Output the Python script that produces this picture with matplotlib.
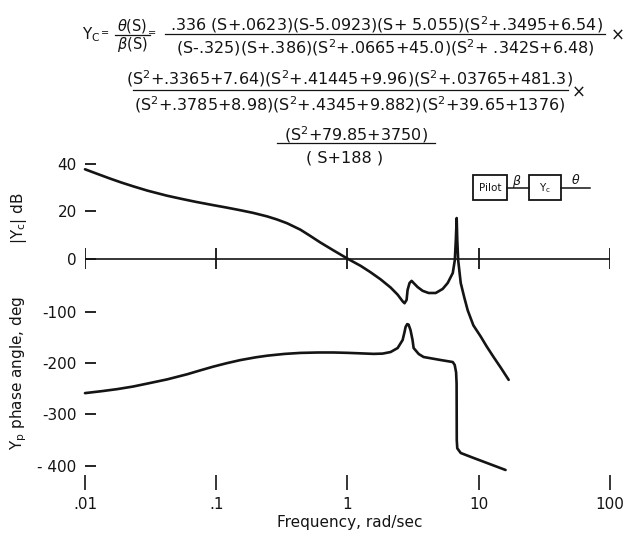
import matplotlib
matplotlib.use("Agg")
import matplotlib.pyplot as plt
from matplotlib.patches import Rectangle
from matplotlib.ticker import NullLocator
import numpy as np

# ---- data ----
# magnitude |Yc| in dB vs frequency (rad/sec)
freq_mag = [0.01, 0.0125, 0.0155, 0.019, 0.0234, 0.030, 0.0421, 0.055, 0.070,
            0.0953, 0.12, 0.152, 0.19, 0.244, 0.29, 0.347, 0.438, 0.52,
            0.622, 0.782, 1.01, 1.26, 1.50, 1.79, 2.13, 2.41, 2.63, 2.72, 2.82,
            2.87, 2.97, 3.08, 3.19, 3.42, 3.74, 4.15, 4.70, 5.31, 5.80, 6.34,
            6.57, 6.69, 6.79, 6.86, 6.97, 7.29, 7.76, 8.24, 9.1, 10.35, 11.5,
            13.0, 14.8, 16.9]
mag_db = [37.7, 35.7, 33.8, 32.1, 30.5, 28.7, 26.6, 25.2, 24.0,
          22.6, 21.6, 20.5, 19.4, 17.9, 16.6, 15.0, 12.3, 9.7,
          6.9, 3.6, 0.0, -2.9, -5.6, -8.6, -12.0, -15.0, -17.8, -18.6, -17.2,
          -13.0, -10.1, -9.2, -10.1, -11.8, -13.4, -14.3, -14.3, -12.6, -10.1, -5.9,
          -0.5, 8.0, 17.2, 8.0, -0.5, -10.1, -16.2, -21.6, -27.9, -32.6, -36.8,
          -41.3, -45.9, -50.8]

# phase angle in deg vs frequency
freq_ph = [0.01, 0.0135, 0.0176, 0.0232, 0.031, 0.0423, 0.0601, 0.075, 0.0948,
           0.12, 0.152, 0.20, 0.245, 0.33, 0.438, 0.60, 0.782, 1.0, 1.26, 1.58,
           1.85, 2.13, 2.41, 2.63, 2.72, 2.77, 2.85, 2.92, 3.02,
           3.13, 3.19, 3.49, 3.80, 5.13, 6.34, 6.56, 6.72, 6.78, 6.80, 6.86,
           7.29, 9.14, 16.0]
phase_deg = [-258.5, -254.6, -250.7, -245.7, -239.0, -231.7, -221.7, -214.4, -206.9,
             -200.2, -194.2, -188.7, -185.5, -182.1, -180.1, -179.3, -179.3, -180, -181, -182,
             -181.5, -178.4, -170.6, -155, -139.4, -129.6, -124, -125, -135.5,
             -155, -170.6, -182.3, -188.1, -194, -197.9, -203.7, -218, -240, -350, -366,
             -375.2, -384.9, -408.3]

freq_ticks = [0.01, 0.1, 1, 10, 100]
freq_labels = ['.01', '.1', '1', '10', '100']
db_ticks = [40, 20, 0]
db_labels = ['40', '20', '0']
deg_ticks = [-100, -200, -300, -400]
deg_labels = ['-100', '-200', '-300', '- 400']

W, H = 626, 537
INK = '#141414'
fig = plt.figure(figsize=(W / 100, H / 100), dpi=100)


def fx(x):
    return x / W


def fy(y):
    return 1 - y / H


# axes span (pixels): x 85..610, y 150..475
ax = fig.add_axes([fx(85), fy(475), fx(610) - fx(85), fy(150) - fy(475)])
ax.set_xscale('log')
ax.set_xlim(0.01, 100)
ax.set_ylim(-418.1, 215.4)
ax.patch.set_visible(False)
for s in ax.spines.values():
    s.set_visible(False)

ax2 = ax.twinx()
ax2.set_ylim(-90.8, 45.8)
for s in ax2.spines.values():
    s.set_visible(False)

# curves
ax2.plot(freq_mag, mag_db, color=INK, lw=1.9, solid_capstyle='round',
         solid_joinstyle='round', clip_on=False)
ax.plot(freq_ph, phase_deg, color=INK, lw=1.9, solid_capstyle='round',
        solid_joinstyle='round', clip_on=False)

# 0 dB reference line with decade ticks
ax2.axhline(0, color=INK, lw=1.2)
ax2.vlines(freq_ticks, -4.2, 4.6, color=INK, lw=1.3)

# x axis
ax.set_xticks(freq_ticks)
ax.set_xticklabels(freq_labels)
ax.xaxis.set_minor_locator(NullLocator())
ax.tick_params(axis='x', direction='out', length=10.5, width=1.2, pad=5,
               labelsize=11, colors=INK)

# y ticks (phase)
ax.set_yticks(deg_ticks)
ax.set_yticklabels(deg_labels)
ax.tick_params(axis='y', direction='in', length=8, width=1.3, pad=6,
               labelsize=11, colors=INK, left=True, labelleft=True)

# y ticks (magnitude), also on the left
ax2.yaxis.tick_left()
ax2.set_yticks(db_ticks)
ax2.set_yticklabels(db_labels)
ax2.tick_params(axis='y', direction='in', length=8, width=1.3, pad=6,
                labelsize=11, colors=INK)

fig.text(fx(19), fy(218), '|Y$_\\mathrm{c}$| dB', rotation=90, ha='center',
         va='center', fontsize=11, color=INK)
fig.text(fx(19), fy(373), 'Y$_\\mathrm{p}$ phase angle, deg', rotation=90,
         ha='center', va='center', fontsize=11, color=INK)
fig.text(fx(350), fy(522), 'Frequency, rad/sec', ha='center', va='center',
         fontsize=11, color=INK)

# ---- transfer function written above the plot ----
# (text, centre x, centre y, width in the scan)
rows = [
    ('.336 (S+.0623)(S-5.0923)(S+ 5.055)(S$^2$+.3495+6.54)', 386, 25, 432),
    ('(S-.325)(S+.386)(S$^2$+.0665+45.0)(S$^2$+ .342S+6.48)', 385, 48, 440),
    ('(S$^2$+.3365+7.64)(S$^2$+.41445+9.96)(S$^2$+.03765+481.3)', 350, 79, 434),
    ('(S$^2$+.3785+8.98)(S$^2$+.4345+9.882)(S$^2$+39.65+1376)', 350, 105, 435),
    ('(S$^2$+79.85+3750)', 356, 135, 155),
    ('( S+188 )', 345, 158, 74),
]
fig.canvas.draw()
rend = fig.canvas.get_renderer()
texts, scales = [], []
for txt, xc, yc, wpx in rows:
    t = fig.text(fx(xc), fy(yc), txt, ha='center', va='center', fontsize=10.5, color=INK)
    scales.append(wpx / t.get_window_extent(rend).width)
    texts.append(t)
fs = 10.5 * float(np.median(scales))
for t in texts:
    t.set_fontsize(fs)

for x0, x1, yb in [(165, 605, 34), (133, 568, 90), (277, 435, 143), (115, 150, 35)]:
    fig.add_artist(plt.Line2D([fx(x0), fx(x1)], [fy(yb), fy(yb)], color=INK, lw=0.9))

fig.text(fx(618), fy(36), '×', ha='center', va='center', fontsize=12, color=INK)
fig.text(fx(579), fy(93), '×', ha='center', va='center', fontsize=12, color=INK)
fig.text(fx(82), fy(35), 'Y$_\\mathrm{C}$', ha='left', va='center', fontsize=11, color=INK)
fig.text(fx(105), fy(33), '=', ha='center', va='center', fontsize=7, color=INK)
fig.text(fx(152), fy(33), '=', ha='center', va='center', fontsize=7, color=INK)
fig.text(fx(132), fy(26), '$\\theta$(S)', ha='center', va='center', fontsize=10.5, color=INK)
fig.text(fx(132), fy(44), '$\\beta$(S)', ha='center', va='center', fontsize=10.5, color=INK)

# ---- block diagram: Pilot -> Yc ----
for x0, x1 in [(473, 507), (529, 561)]:
    fig.add_artist(Rectangle((fx(x0), fy(200)), fx(x1) - fx(x0), fy(175) - fy(200),
                             transform=fig.transFigure, fill=False, ec=INK, lw=1.3))
for x0, x1 in [(507, 529), (561, 590)]:
    fig.add_artist(plt.Line2D([fx(x0), fx(x1)], [fy(188), fy(188)], color=INK, lw=1.1))
fig.text(fx(490), fy(188), 'Pilot', ha='center', va='center', fontsize=7.5, color=INK)
fig.text(fx(545), fy(188), 'Y$_\\mathrm{c}$', ha='center', va='center', fontsize=7.5, color=INK)
fig.text(fx(517), fy(181), '$\\beta$', ha='center', va='center', fontsize=9, color=INK)
fig.text(fx(576), fy(180), '$\\theta$', ha='center', va='center', fontsize=9, color=INK)

fig.savefig('out.png', dpi=100, facecolor='white')
